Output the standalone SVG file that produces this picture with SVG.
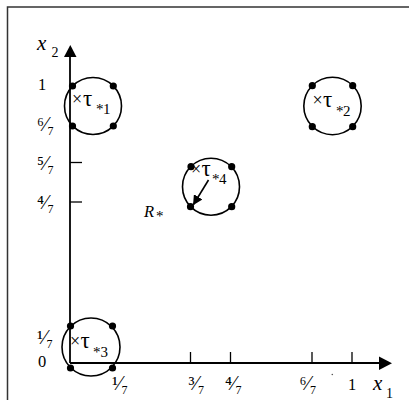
<svg xmlns="http://www.w3.org/2000/svg" width="409" height="404" viewBox="0 0 409 404">
<style>
  text { font-family: "Liberation Serif", "Times New Roman", serif; fill: #000; }
  .lab { font-size: 16.5px; }
  .xl { font-size: 21px; font-style: italic; }
  .it { font-style: italic; }
  .sub { font-size: 14px; font-style: normal; }
  .fr { font-size: 20px; }
  .tx { font-size: 18px; }
  .tm { font-size: 23px; }
  .ts { font-size: 15px; }
  .ring { fill: none; stroke: #000; stroke-width: 1.6; }
  .dot { fill: #000; }
  .ax { stroke: #000; stroke-width: 1.8; fill: none; }
  .tick { stroke: #000; stroke-width: 1.3; }
  .frame { stroke: #333; stroke-width: 1.5; fill: none; }
</style>
<defs>
  <marker id="ah" viewBox="0 0 10 10" refX="9" refY="5" markerWidth="10" markerHeight="10" markerUnits="userSpaceOnUse" orient="auto">
    <path d="M0,0 L10,5 L0,10 Z" fill="#000"/>
  </marker>
</defs>
<rect width="409" height="404" fill="#fff"/>
<g id="frame">
  <polyline class="frame" points="7.5,400 7.5,7 409,7"/>
</g>
<g id="axes">
  <line class="ax" x1="70" y1="363" x2="70" y2="56"/>
  <path d="M64,57 L76.5,57 L70.3,45 Z" fill="#000"/>
  <line class="ax" x1="70" y1="363" x2="380" y2="363"/>
  <path d="M379,356.5 L379,370 L392,363.2 Z" fill="#000"/>
  <line class="tick" x1="70" y1="162.5" x2="82" y2="162.5"/>
  <line class="tick" x1="70" y1="202" x2="82" y2="202"/>
  <line class="tick" x1="190.5" y1="363" x2="190.5" y2="352"/>
  <line class="tick" x1="230.5" y1="363" x2="230.5" y2="352"/>
  <line class="tick" x1="312" y1="363" x2="312" y2="352"/>
  <line class="tick" x1="352" y1="363" x2="352" y2="352"/>
  <circle cx="332.3" cy="374.5" r="0.8" fill="#555"/>
</g>
<g id="axis-labels">
  <text class="xl" x="37" y="50">x<tspan class="sub" x="51.5" y="57">2</tspan></text>
  <text class="lab" x="38" y="90">1</text>
  <text class="lab" x="38" y="367">0</text>
  <text class="lab" x="348" y="390">1</text>
  <text class="xl" x="373" y="390">x<tspan class="sub" x="386" y="398">1</tspan></text>
  <text class="fr" x="37" y="131">⁶⁄₇</text>
  <text class="fr" x="37" y="170">⁵⁄₇</text>
  <text class="fr" x="37" y="209">⁴⁄₇</text>
  <text class="fr" x="37" y="344">¹⁄₇</text>
  <text class="fr" x="112" y="390">¹⁄₇</text>
  <text class="fr" x="188.5" y="390">³⁄₇</text>
  <text class="fr" x="225" y="390">⁴⁄₇</text>
  <text class="fr" x="299.5" y="390">⁶⁄₇</text>
  <text class="lab it" x="144" y="217">R<tspan class="ts" font-style="normal" x="156" y="221">*</tspan></text>
</g>
<g id="tau1">
  <circle class="ring" cx="93" cy="106" r="28.5"/>
  <circle class="dot" cx="72.5" cy="86" r="3.6"/>
  <circle class="dot" cx="113.3" cy="86" r="3.6"/>
  <circle class="dot" cx="72.5" cy="126" r="3.6"/>
  <circle class="dot" cx="113.3" cy="126" r="3.6"/>
  <text><tspan class="tx" x="72" y="105">×</tspan><tspan class="tm" x="83" y="106">τ</tspan><tspan class="ts" x="96" y="114">*</tspan><tspan class="ts" x="103" y="114">1</tspan></text>
</g>
<g id="tau2">
  <circle class="ring" cx="332.5" cy="106" r="28.7"/>
  <circle class="dot" cx="312.3" cy="85.7" r="3.6"/>
  <circle class="dot" cx="352.7" cy="85.7" r="3.6"/>
  <circle class="dot" cx="312.3" cy="126.7" r="3.6"/>
  <circle class="dot" cx="352.7" cy="126.7" r="3.6"/>
  <text><tspan class="tx" x="312.5" y="106">×</tspan><tspan class="tm" x="323" y="107">τ</tspan><tspan class="ts" x="336" y="116">*</tspan><tspan class="ts" x="343" y="116">2</tspan></text>
</g>
<g id="tau3">
  <circle class="ring" cx="91" cy="347" r="29"/>
  <circle class="dot" cx="70.5" cy="326" r="3.6"/>
  <circle class="dot" cx="112.5" cy="326" r="3.6"/>
  <circle class="dot" cx="70.5" cy="368" r="3.6"/>
  <circle class="dot" cx="112.5" cy="368" r="3.6"/>
  <text><tspan class="tx" x="70" y="347">×</tspan><tspan class="tm" x="80.5" y="348">τ</tspan><tspan class="ts" x="93" y="357">*</tspan><tspan class="ts" x="100.5" y="357">3</tspan></text>
</g>
<g id="tau4">
  <circle class="ring" cx="211" cy="186.7" r="28.5"/>
  <circle class="dot" cx="191" cy="166.7" r="3.6"/>
  <circle class="dot" cx="231.7" cy="166.7" r="3.6"/>
  <circle class="dot" cx="190.5" cy="206.7" r="3.6"/>
  <circle class="dot" cx="231.7" cy="206.7" r="3.6"/>
  <text><tspan class="tx" x="191" y="175">×</tspan><tspan class="tm" x="201.5" y="176">τ</tspan><tspan class="ts" x="212" y="184">*</tspan><tspan class="ts" x="219" y="184">4</tspan></text>
</g>
<g id="connectors">
  <line x1="208.5" y1="180" x2="193.5" y2="204.5" stroke="#000" stroke-width="1.6" marker-end="url(#ah)"/>
</g>
</svg>
